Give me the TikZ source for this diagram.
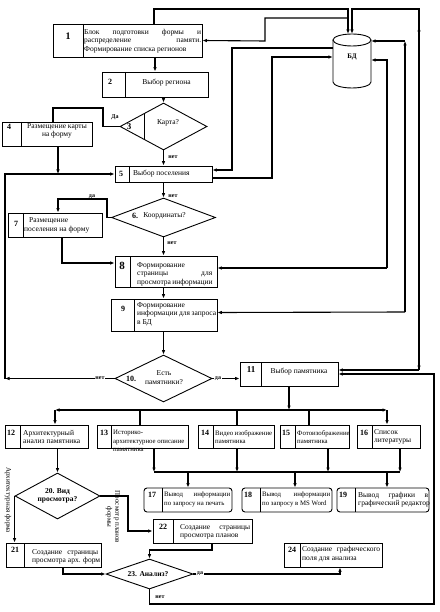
\documentclass[tikz,border=0pt]{standalone}
\usepackage{fontspec}
\setmainfont{Liberation Serif}
\usetikzlibrary{arrows.meta,shapes.geometric}
\newcommand\jl[2]{\makebox[#1pt][s]{#2}}
\newcommand\blk[7][]{%
  \node[box,#1,minimum width={(#5-#3)*1pt},minimum height={(#6-#4)*1pt}] (#2) at ({(#3+#5)/2},{(#4+#6)/2}) {};
  \draw[ln] (#7,#4) -- (#7,#6);}
\tikzset{
  ln/.style={line width=0.9pt},
  cn/.style={line width=1.1pt},
  arr/.style={cn,-{Latex[length=4.5pt,width=3.6pt]}},
  box/.style={draw,line width=0.9pt,inner sep=0pt,fill=none},
  dia/.style={diamond,draw,line width=0.9pt,inner sep=0pt},
  num/.style={font=\bfseries\fontsize{8}{9}\selectfont,inner sep=0pt},
  txt/.style={font=\fontsize{7.5}{8.5}\selectfont,inner sep=0pt,align=left},
  stxt/.style={txt,font=\fontsize{6.8}{8.5}\selectfont},
  lbl/.style={font=\bfseries\fontsize{6}{7}\selectfont,inner sep=0.6pt},
}
\begin{document}
\begin{tikzpicture}[x=1pt,y=-1pt]
\useasboundingbox (0,0) rectangle (439,612);
\fill[white] (0,0) rectangle (439,612);

% ---------- boxes ----------
\blk{b1}{53}{24}{202}{57}{83}
\blk{b2}{102}{72}{208}{97}{125}
\blk{b4}{2}{122}{92}{146}{21}
\blk{b5}{115}{166}{212}{182}{129}
\blk{b7}{8}{213}{102}{237}{23}
\blk{b8}{115}{256}{217}{287}{130}
\blk{b9}{111}{299}{217}{331}{134}
\blk{b11}{240}{362}{338}{386}{261}
\blk{b12}{5}{425}{88}{448}{20}
\blk{b13}{97}{425}{188}{448}{111}
\blk{b14}{198}{425}{274}{448}{213}
\blk{b15}{280}{425}{349}{448}{295}
\blk{b16}{357}{425}{420}{448}{372}
\blk[rounded corners=3pt]{b17}{144}{488}{232}{512}{162}
\blk[rounded corners=3pt]{b18}{242}{488}{332}{512}{260}
\blk[rounded corners=3pt]{b19}{337}{488}{429}{512}{355}
\blk{b21}{6}{543}{101}{567}{24}
\blk{b22}{153}{519}{252}{543}{173}
\blk{b24}{284}{543}{382}{567}{300}

% ---------- diamonds ----------
\node[dia,minimum width=87pt,minimum height=47pt] (d3) at (163.5,126.5) {};
\draw[ln] (144,113.5) -- (144,139.5);
\node[dia,minimum width=104pt,minimum height=39pt] (d6) at (163.5,217.5) {};
\node[dia,minimum width=97pt,minimum height=47pt] (d10) at (163.5,378.5) {};
\node[dia,minimum width=85pt,minimum height=46pt] (d20) at (57.5,496) {};
\node[dia,minimum width=87pt,minimum height=30pt] (d23) at (149.5,574) {};

% ---------- database ----------
\node[minimum width=38pt,minimum height=54pt,inner sep=0pt] (db) at (352,61) {};
\draw[ln] (333,40) -- (333,82) arc[start angle=180,end angle=360,x radius=19pt,y radius=6pt] -- (371,40);
\draw[ln] (352,40) ellipse[x radius=19pt,y radius=6pt];
\node[font=\bfseries\fontsize{7}{8}\selectfont,inner sep=0pt] (dbt) at (352,57) {БД};

% ---------- numbers ----------
\node[num,font=\bfseries\fontsize{10}{11}\selectfont] (n1) at (68,36) {1};
\node[num] (n2) at (110,82) {2};
\node[num] (n4) at (9,127) {4};
\node[num] (n5) at (121,174) {5};
\node[num] (n7) at (16,224) {7};
\node[num,font=\bfseries\fontsize{11}{12}\selectfont] (n8) at (122,266) {8};
\node[num] (n9) at (123,309) {9};
\node[num,font=\bfseries\fontsize{9}{10}\selectfont] (n11) at (251,370) {11};
\node[num] (n12) at (11,433) {12};
\node[num] (n13) at (104,433) {13};
\node[num] (n14) at (205,433) {14};
\node[num] (n15) at (286,433) {15};
\node[num] (n16) at (364,433) {16};
\node[num] (n17) at (152,495) {17};
\node[num] (n18) at (248,495) {18};
\node[num] (n19) at (343,495) {19};
\node[num] (n21) at (15,550) {21};
\node[num] (n22) at (163,527) {22};
\node[num] (n24) at (292,550) {24};

% ---------- texts ----------
\node[txt,anchor=west] (t1) at (84,41) {\jl{117}{Блок подготовки формы и}\\\jl{117}{распределение памяти.}\\Формирование списка регионов};
\node[txt] (t2) at (166.5,83) {Выбор региона};
\node[txt,align=center] (t4) at (57,131) {Размещение карты\\на форму};
\node[txt,anchor=west] (t5) at (133,174) {Выбор поселения};
\node[txt,anchor=west] (t7) at (24,225.5) {\hspace{5pt}Размещение\\поселения на форму};
\node[txt,anchor=west] (t8) at (137,274) {Формирование\\\jl{75}{страницы для}\\\jl{75}{просмотра информации}};
\node[txt,anchor=west] (t9) at (137,314) {Формирование\\\jl{79}{информации для запроса}\\в БД};
\node[txt] (t11) at (299,372) {Выбор памятника};
\node[txt,anchor=west] (t12) at (23,437) {Архитектурный\\анализ памятника};
\node[stxt,anchor=west] (t13) at (113,441) {Историко-\\архитектурное описание\\памятника};
\node[stxt,anchor=west] (t14) at (215,437) {\jl{57}{Видео изображение}\\памятника};
\node[stxt,anchor=west] (t15) at (297,437) {Фотоизображение\\памятника};
\node[txt,anchor=west] (t16) at (374,437) {Список\\литературы};
\node[stxt,anchor=west] (t17) at (164,499.5) {\jl{66}{Вывод информации}\\по запросу на печать};
\node[stxt,anchor=west] (t18) at (262,499.5) {\jl{68}{Вывод информации}\\по запросу в MS Word};
\node[txt,anchor=west] (t19) at (358,499.5) {\jl{70}{Вывод графики в}\\графический редактор};
\node[txt,anchor=west] (t21) at (32,557) {\jl{66}{Создание страницы}\\просмотра арх. форм};
\node[txt,anchor=west] (t22) at (180,532) {\jl{70}{Создание страницы}\\просмотра планов};
\node[txt,anchor=west] (t24) at (302,554) {\jl{78}{Создание графического}\\поля для анализа};

% diamond texts
\node[txt] (d3t) at (168,123) {Карта?};
\node[num,font=\bfseries\fontsize{9}{10}\selectfont] (d3n) at (129,127) {3};
\node[num] (d6n) at (135,216) {6.};
\node[txt] (d6t) at (164.5,216) {Координаты?};
\node[txt,align=center] (d10t) at (164,377.5) {Есть\\памятники?};
\node[num] (d10n) at (131,379) {10.};
\node[num,align=center,font=\bfseries\fontsize{7.5}{8.5}\selectfont] (d20t) at (57.5,496) {20. Вид\\просмотра?};
\node[num,font=\bfseries\fontsize{7.5}{8.5}\selectfont] (d23t) at (148,574) {23. Анализ?};

% ---------- connectors: database ----------
\draw[arr] ([xshift=26.5pt]b1.north) -- (154,9) -- (348,9) -- ([xshift=-4pt]db.north);
\draw[arr] (419,370) -- (419,9) -- (352,9) -- (db.north);
\draw[arr] (419,40) -- (419,27);
\draw[arr] (348,18) -- (265,18) -- (265,41) -- (b1.east);
\draw[arr] ([yshift=13pt]db.west) -- (232,48) -- (232,170) -- ([yshift=4pt]b5.east);
\draw[arr] ([yshift=-4pt]b5.east) -- (272,178) -- (272,57) -- ([yshift=4pt]db.west);
\draw[arr] (405,312) -- (405,41);
\draw[arr] (405,41) -- ([yshift=20pt]db.east);
\draw[arr] (405,312) -- ([yshift=2.5pt]b9.east);
\draw[arr] (387,268) -- (387,60) -- ([yshift=1pt]db.east);
\draw[arr] (387,268) -- ([yshift=3.5pt]b8.east);

% ---------- connectors: main flow ----------
\draw[arr] (b1.south -| b2.north) -- (b2.north);
\draw[arr] (b2.south -| d3.north) -- (d3.north);
\draw[cn] (d3.west) -- (103,126.5) -- (103,108) -- (53,108) -- ([xshift=6pt]b4.north);
\draw[arr] (d3.south) -- (d3.south |- b5.north);
\draw[arr] ([xshift=11pt]b4.south) -- (58,174);
\draw[arr] (d10.west) -- (5,378.5);
\draw[arr] (5,378.5) -- (5,174) -- (b5.west);
\draw[arr] (b5.south -| d6.north) -- (d6.north);
\draw[arr] (d6.west) -- (107,217.5) -- (107,199) -- (58,199) -- ([xshift=3pt]b7.north);
\draw[arr] ([xshift=7pt]b7.south) -- (62,263) -- ([yshift=8.5pt]b8.west);
\draw[arr] (d6.south) -- (d6.south |- b8.north);
\draw[arr] (d6.south |- b8.south) -- (d6.south |- b9.north);
\draw[arr] (b9.south -| d10.north) -- (d10.north);
\draw[arr] (d10.east) -- (d10.east -| b11.west);

% bus 1
\draw[arr] (b11.south) -- (289,410);
\draw[arr] (289,410) -- (55,410);
\draw[arr] (140,410) -- (387,410);
\draw[arr] (55,410) -- ([xshift=8.5pt]b12.north);
\draw[cn] (140,410) -- ([xshift=-2.5pt]b13.north);
\draw[cn] (237,410) -- ([xshift=1pt]b14.north);
\draw[cn] (309,410) -- ([xshift=-5.5pt]b15.north);
\draw[arr] (387,410) -- ([xshift=-1.5pt]b16.north);

% bus 2
\draw[arr] ([xshift=11.5pt]b13.south) -- (154,472);
\draw[arr] ([xshift=1pt]b14.south) -- (237,472);
\draw[arr] ([xshift=13.5pt]b15.south) -- (328,472);
\draw[arr] ([xshift=11.5pt]b16.south) -- (400,472);
\draw[cn] (154,472) -- (400,472);
\draw[arr] (188,472) -- (b17.north);
\draw[arr] (295,472) -- ([xshift=8pt]b18.north);
\draw[arr] (387,472) -- ([xshift=4pt]b19.north);

% lower part
\draw[arr] (b12.south -| d20.north) -- (d20.north);
\draw[arr] (d20.west) -- (d20.west |- b21.north);
\draw[arr] (d20.east) -- (128,496) -- (128,531) -- (b22.west);
\draw[arr] ([xshift=9.5pt]b21.south) -- (63,574) -- (d23.west);
\draw[arr] ([xshift=9.5pt]b22.south) -- (212,550) -- (149.5,550) -- (d23.north);
\draw[arr] (d23.east) -- (340,574) -- ([xshift=7pt]b24.south);
\draw[arr] (d23.south) -- (149.5,604) -- (434,604) -- (434,374) -- (b11.east);
\draw[arr] (419,370) -- ([yshift=4pt]b11.east);
\draw[arr] (419,360) -- (419,370);

% ---------- labels ----------
\node[lbl] (l1) at (115,117) {Да};
\node[lbl] (l2) at (173,157) {нет};
\node[lbl] (l3) at (173,196) {нет};
\node[lbl] (l4) at (92,197) {да};
\node[lbl] (l5) at (172,243) {нет};
\node[lbl,fill=white] (l6) at (100,378.5) {нет};
\node[lbl,fill=white] (l7) at (218,378.5) {да};
\node[lbl,fill=white] (l8) at (200,574) {да};
\node[lbl] (l9) at (160,597) {нет};
\node[font=\fontsize{7}{8}\selectfont,rotate=-90,inner sep=0pt] (r1) at (8,500) {Архитектурная форма};
\node[font=\fontsize{7}{8}\selectfont,rotate=-90,align=center,inner sep=0pt] (r2) at (113,517) {Просмотр планов\\формы};
\end{tikzpicture}
\end{document}
